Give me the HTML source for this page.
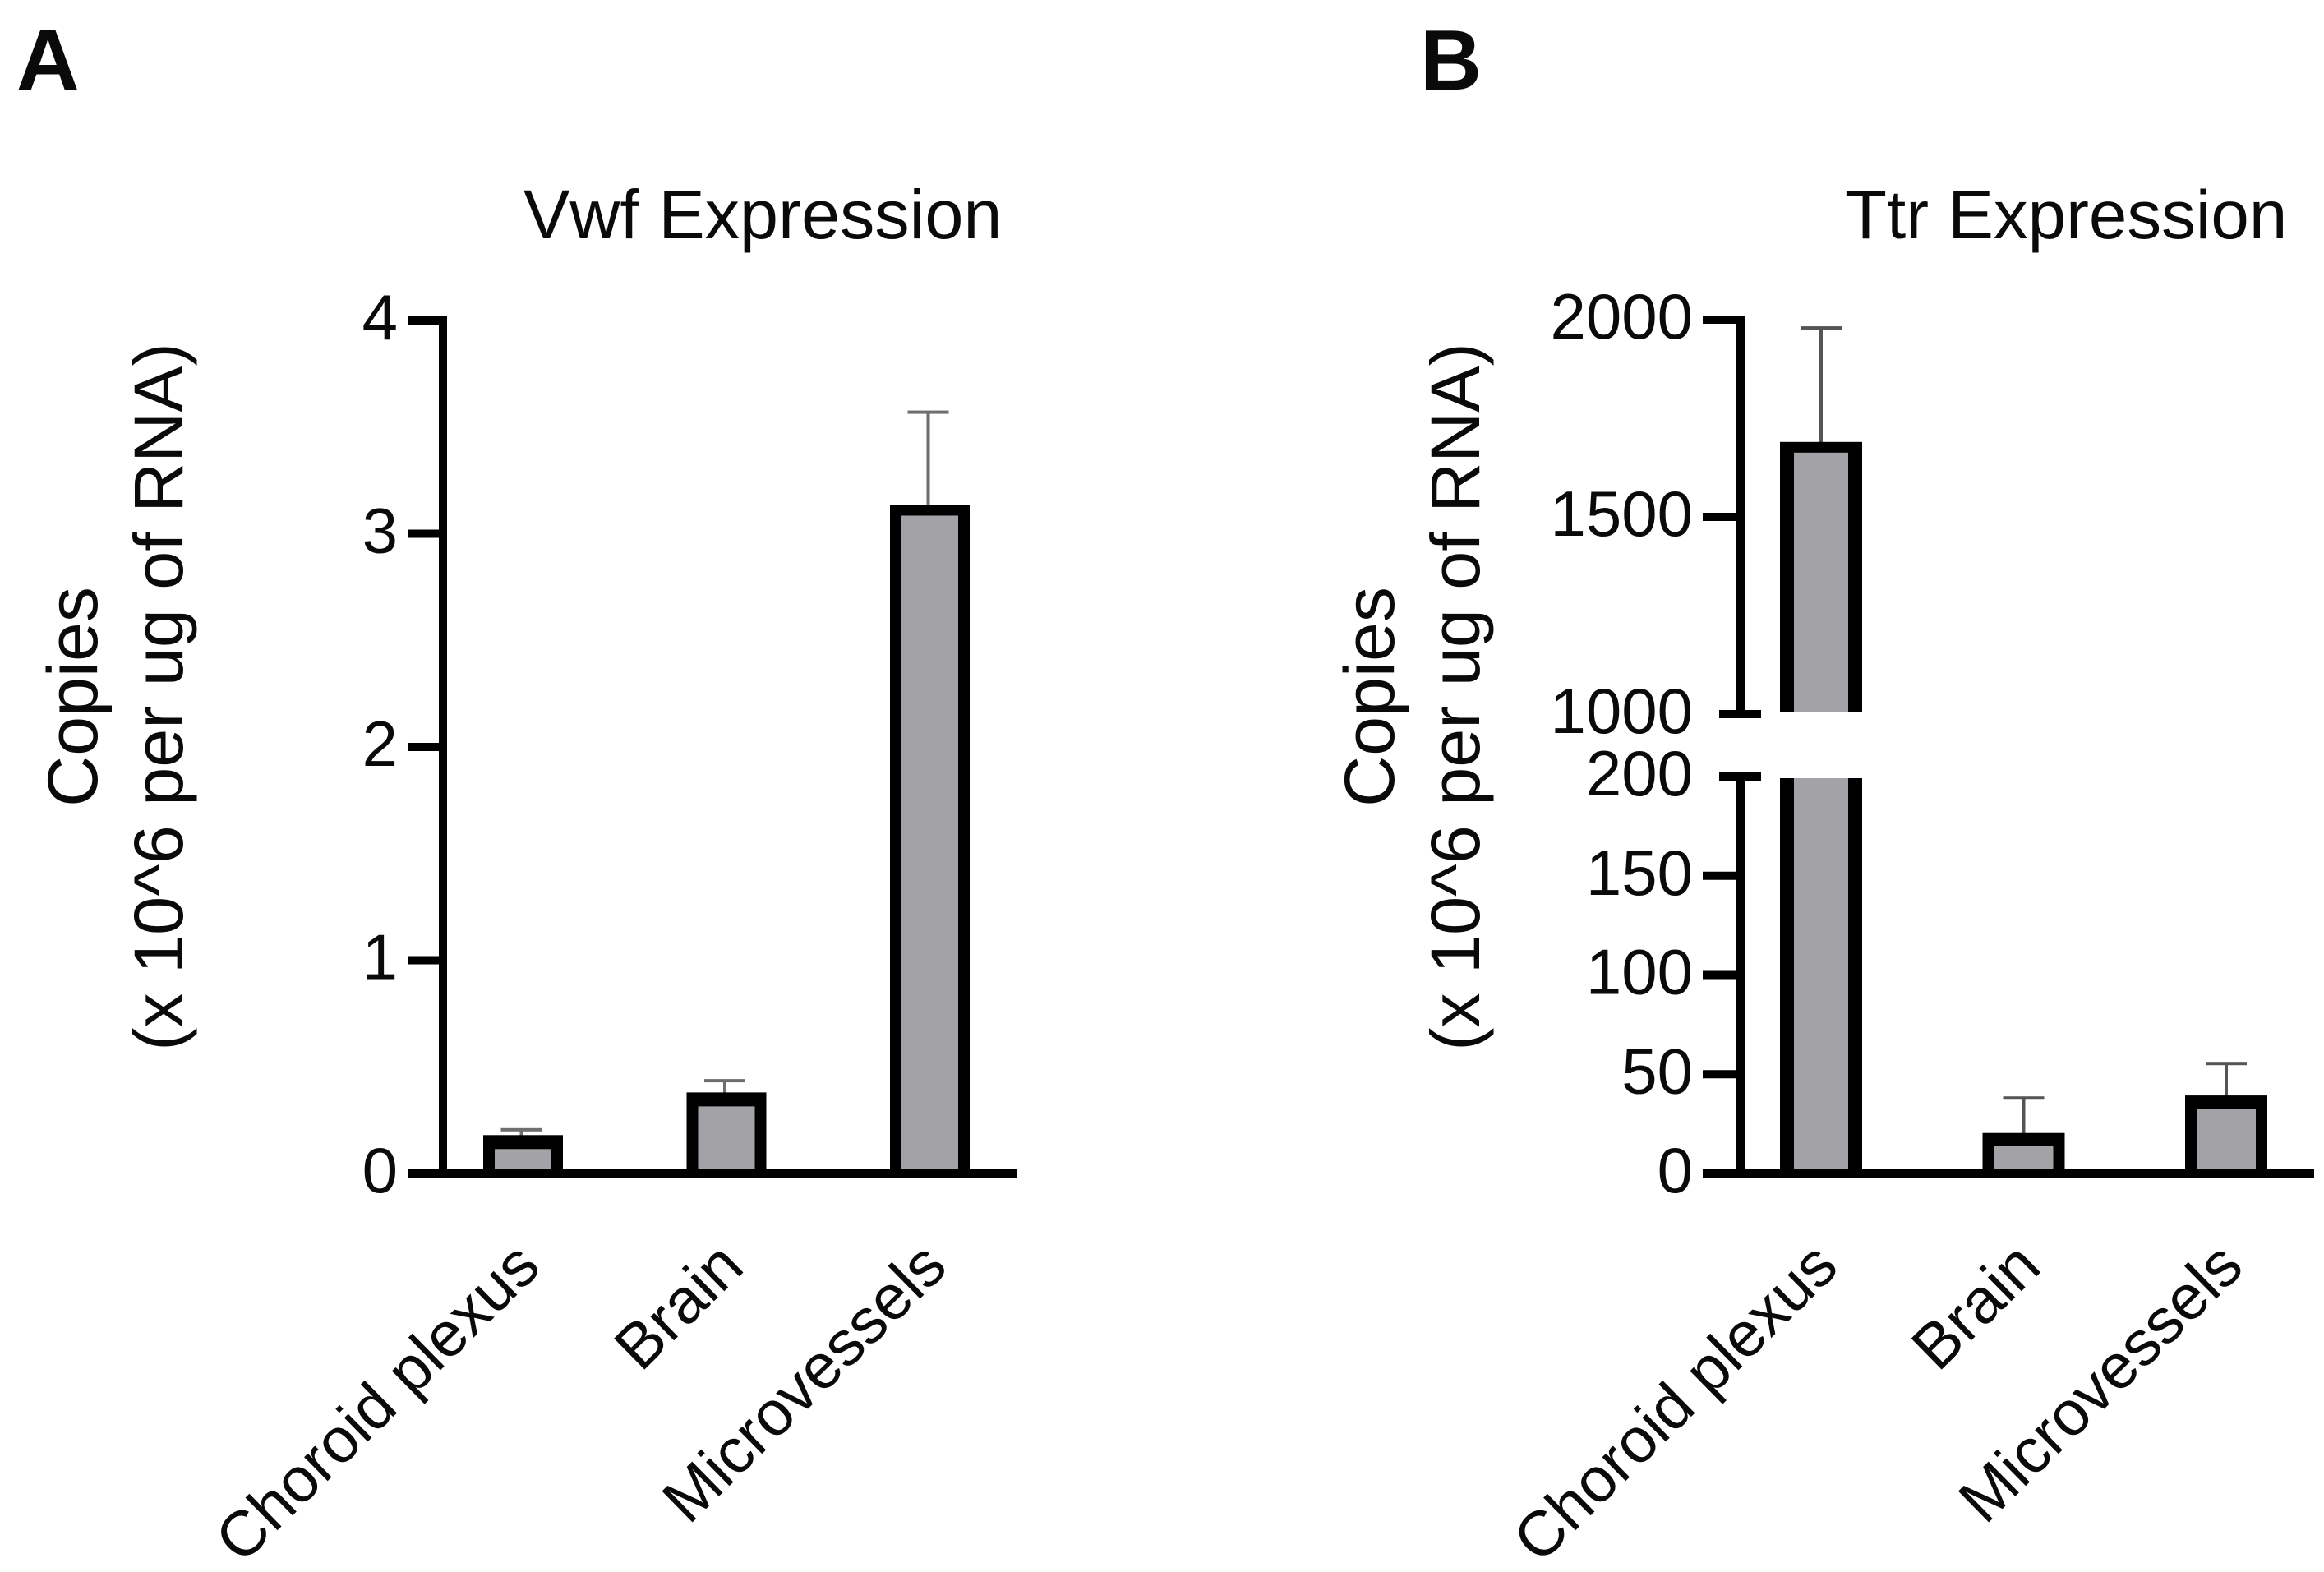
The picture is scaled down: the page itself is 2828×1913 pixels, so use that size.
<!DOCTYPE html>
<html lang="en">
<head>
<meta charset="utf-8">
<title>Vwf and Ttr Expression</title>
<style>
html,body{margin:0;padding:0;background:#fff;width:2828px;height:1913px;overflow:hidden}
svg{display:block}
text{font-family:"Liberation Sans",sans-serif;fill:#0a0a0a}
</style>
</head>
<body>
<svg id="figure" xmlns="http://www.w3.org/2000/svg" width="2828" height="1913" viewBox="0 0 2828 1913">
  <rect width="2828" height="1913" fill="#fff"/>
  <text x="20" y="109" font-size="106" font-weight="700">A</text>
  <text x="1728" y="109" font-size="104" font-weight="700">B</text>
  <text x="637" y="290" font-size="84.5">Vwf Expression</text>
  <text x="2245" y="290" font-size="83.5">Ttr Expression</text>
  <text transform="translate(118,848) rotate(-90)" text-anchor="middle" font-size="86">Copies</text>
  <text transform="translate(222,848) rotate(-90)" text-anchor="middle" font-size="84.5">(x 10^6 per ug of RNA)</text>
  <text transform="translate(1696,848) rotate(-90)" text-anchor="middle" font-size="86">Copies</text>
  <text transform="translate(1800,848) rotate(-90)" text-anchor="middle" font-size="84.5">(x 10^6 per ug of RNA)</text>
  <g id="chart-a"></g>
  <g id="chart-b"></g>
</svg>
<script>
const categories = ["Choroid plexus", "Brain", "Microvessels"];
const vwfMeans = [0.18, 0.38, 3.135];
const vwfErrors = [0.205, 0.435, 3.57];
const vwfTicks = [0, 1, 2, 3, 4];
const ttrMeans = [1690, 20.4, 39.3];
const ttrErrors = [1979, 38, 55.4];
const ttrLowerTicks = [0, 50, 100, 150, 200];
const ttrUpperTicks = [1000, 1500, 2000];

const NS = "http://www.w3.org/2000/svg";
const BASE = 1428, BLACK = "#000", GREY = "#a3a2a6";

function yVwf(v) { return BASE - v * 259.5; }
function yTtr(v) {
  if (v <= 200) return BASE - v * 2.415;
  return 869 - (v - 1000) * 0.48;
}
function xVwf(i) { return 636.5 + i * 247.5; }
function xTtr(i) { return 2216 + i * 246.5; }

function make(parent, tag, attrs) {
  const el = document.createElementNS(NS, tag);
  Object.keys(attrs).forEach(function (k) { el.setAttribute(k, attrs[k]); });
  parent.appendChild(el);
  return el;
}
function box(parent, x1, y1, x2, y2, fill) {
  return make(parent, "rect", { x: x1, y: y1, width: x2 - x1, height: y2 - y1, fill: fill });
}

function drawTickLabel(parent, text, right, y) {
  const t = make(parent, "text", { x: right, y: y + 23, "text-anchor": "end", "font-size": 78 });
  t.textContent = text;
  
  
}

function drawCategory(parent, text, cx) {
  const t = make(parent, "text", {
    transform: "translate(" + (cx + 24) + ",1545) rotate(-44.5)",
    "text-anchor": "end",
    "font-size": 77
  });
  t.textContent = text;
  
  
}

function drawError(parent, cx, yTop, yBottom, stemColor, stemWidth) {
  const stem = box(parent, cx - stemWidth / 2, yTop, cx + stemWidth / 2, yBottom, stemColor);
  
  
  const cap = box(parent, cx - 25, yTop - 2, cx + 25, yTop + 2, stemColor);
  
  
}

function drawBarPart(parent, cx, halfW, wall, top, bottom, topBorder) {
  const outer = box(parent, cx - halfW, top, cx + halfW, bottom, BLACK);
  
  
  const inner = box(parent, cx - halfW + wall, top + topBorder, cx + halfW - wall, bottom, GREY);
  
  
}

/* Panel A */
(function () {
  const g = document.getElementById("chart-a");
  categories.forEach(function (name, i) {
    const cx = xVwf(i);
    drawError(g, cx - 2, yVwf(vwfErrors[i]), yVwf(vwfMeans[i]) + 2, "#6e6e6e", 4);
    const top = yVwf(vwfMeans[i]);
    drawBarPart(g, cx, 48.5, 14, top, BASE, top < 800 ? 13 : 17);
    drawCategory(g, name, cx);
  });
  const axisY = box(g, 534, 385, 544, BASE, BLACK);
  
  
  const axisX = box(g, 496, BASE - 5, 1238, BASE + 5, BLACK);
  
  
  vwfTicks.forEach(function (v) {
    const y = yVwf(v);
    const tick = box(g, 496, y - 5, 544, y + 5, BLACK);
    
    
    drawTickLabel(g, String(v), 484, y);
  });
})();

/* Panel B */
(function () {
  const g = document.getElementById("chart-b");
  categories.forEach(function (name, i) {
    const cx = xTtr(i);
    const top = yTtr(ttrMeans[i]);
    drawError(g, cx, yTtr(ttrErrors[i]), top + 2, "#555", 4);
    if (ttrMeans[i] > 200) {
      drawBarPart(g, cx, 50, 17, top, yTtr(1000) - 2, 13);
      drawBarPart(g, cx, 50, 17, yTtr(200) + 2, BASE, 0);
    } else {
      drawBarPart(g, cx, 50, 14, top, BASE, 16);
    }
    drawCategory(g, name, cx);
  });
  const axisUpper = box(g, 2113, 385, 2123, yTtr(1000), BLACK);
  
  
  const axisLower = box(g, 2113, yTtr(200), 2123, BASE, BLACK);
  
  
  const axisX = box(g, 2072, BASE - 5, 2816, BASE + 5, BLACK);
  
  
  ttrUpperTicks.concat(ttrLowerTicks).forEach(function (v) {
    const y = yTtr(v);
    const atBreak = v === 1000 || v === 200;
    const tick = box(g, atBreak ? 2092 : 2072, y - 5, atBreak ? 2143 : 2123, y + 5, BLACK);
    
    
    drawTickLabel(g, String(v), 2060, y);
  });
})();
</script>
</body>
</html>
